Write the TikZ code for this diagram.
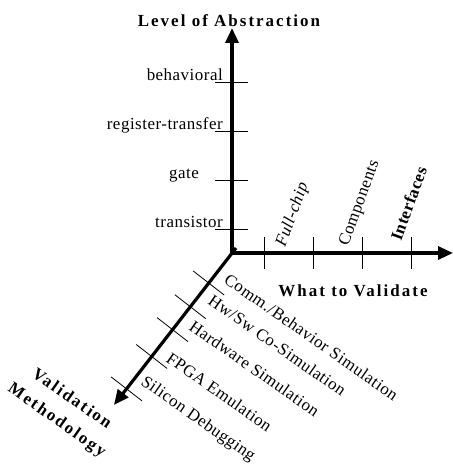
\documentclass[tikz,border=0pt]{standalone}
\usepackage{fontspec}
\setmainfont{Liberation Serif}[LetterSpace=3]
\newfontfamily\headfont{Liberation Serif}[LetterSpace=12]
\usetikzlibrary{calc,arrows.meta}

\begin{document}
\begin{tikzpicture}[
  % one unit is one pixel of the sheet, y runs downwards
  x=1bp, y=-1bp,
  axis/.style={line width=3.2bp, -{Triangle[length=15bp,width=13bp]}},
  tickmark/.style={line width=0.8bp},
  lbl/.style={inner sep=0pt, font=\fontsize{17}{20}\selectfont},
  head/.style={inner sep=0pt, font=\headfont\bfseries\fontsize{17}{20}\selectfont},
]
\useasboundingbox (0,0) rectangle (453,466);

% --- Corner and axis ends ---
\coordinate (O) at (232,253);
\coordinate (Obase) at (232,254.6);
\coordinate (Oleft) at (230.4,253);
\coordinate (Ostub) at (236,248);
\coordinate (Otop) at (232,28);
\coordinate (Oright) at (453,253);
\coordinate (Odown) at (114,405);

% --- Level of abstraction (vertical) ---
\foreach \y/\x/\name/\txt in {82/223/beh/behavioral, 131/223/rtl/register-transfer,
                             180/199/gate/gate, 229/223/tra/transistor} {
  \draw[tickmark] (215,\y) -- (248,\y);
  \node[lbl, anchor=base east] (lev-\name) at (\x,\y-1) {\txt};
}
\node[head, anchor=base] (title-level) at (229,27) {Level of Abstraction};

% --- What to validate (horizontal) ---
\foreach \x in {264,313,362,411}
  \draw[tickmark] (\x,237) -- (\x,269);
\node[lbl, rotate=70, anchor=base west] (what-chip) at (285,248) {\itshape Full-chip};
\node[lbl, rotate=70, anchor=base west] (what-comp) at (348,247) {Components};
\node[lbl, rotate=70, anchor=base west] (what-intf) at (401,242) {\bfseries Interfaces};
\node[head, anchor=base] (title-what) at (353,296) {What to Validate};

% --- Validation methodology (diagonal) ---
\foreach \d [count=\i] in {38,68,97,131,172} {
  \coordinate (m\i) at ($(O)!\d bp!(Odown)$);
  \draw[tickmark] ($(m\i)!19.5bp!90:(Odown)$) -- ($(m\i)!19.5bp!-90:(Odown)$);
}
\foreach \x/\y/\name/\txt in {223/282/comm/{Comm./Behavior Simulation},
                             207/303/cosim/{Hw/Sw Co-Simulation},
                             188/329/hwsim/{Hardware Simulation},
                             165/361/fpga/{FPGA Emulation},
                             140/384/silicon/{Silicon Debugging}}
  \node[lbl, rotate=-35, anchor=base west] (meth-\name) at (\x,\y) {\txt};
\node[head, rotate=-35, align=center,
      font=\headfont\bfseries\fontsize{17}{26}\selectfont]
  (title-meth) at (64,410) {Validation\\Methodology};

% --- Axes ---
\draw[axis] (Obase) -- (Otop);
\draw[axis] (Oleft) -- (Oright);
\draw[axis] (Ostub) -- (Odown);

\end{tikzpicture}
\end{document}
